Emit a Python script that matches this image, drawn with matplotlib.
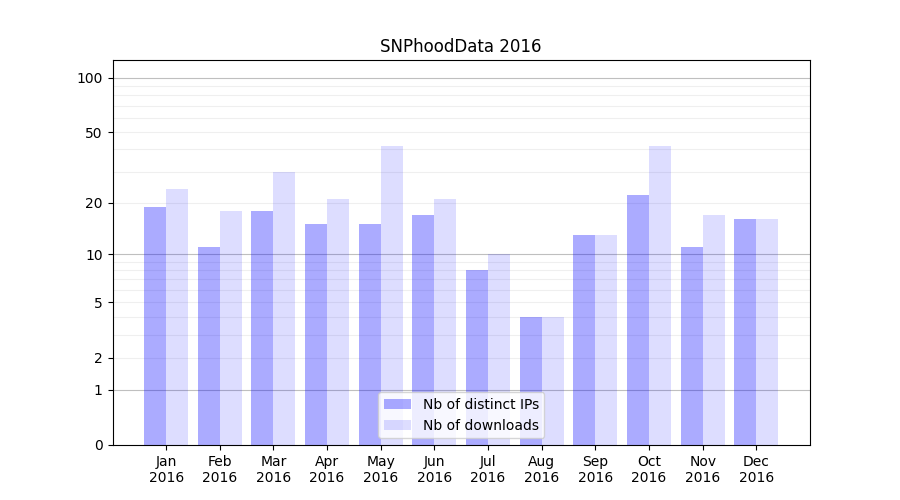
import matplotlib
matplotlib.use("Agg")
import matplotlib.pyplot as plt
import numpy as np

months = ["Jan", "Feb", "Mar", "Apr", "May", "Jun", "Jul", "Aug", "Sep", "Oct", "Nov", "Dec"]
year = "2016"
distinct_ips = [19, 11, 18, 15, 15, 17, 8, 4, 13, 22, 11, 16]
downloads = [24, 18, 30, 21, 42, 21, 10, 4, 13, 42, 17, 16]
ytick_vals = [0, 1, 2, 5, 10, 20, 50, 100]

fig, ax = plt.subplots(figsize=(9, 5), dpi=100)

def fwd(y):
    return np.log10(1 + np.clip(y, 0, None))

def inv(y):
    return 10 ** y - 1

ax.set_yscale("function", functions=(fwd, inv))

x = np.arange(len(months))
w = 0.41
ax.bar(x - w / 2, distinct_ips, width=w, color="blue", alpha=0.33, label="Nb of distinct IPs", zorder=2)
ax.bar(x + w / 2, downloads, width=w, color="blue", alpha=0.135, label="Nb of downloads", zorder=2)

ax.set_ylim(0, 125)
ax.set_xlim(-1, 12)
ax.set_yticks(ytick_vals)
ax.set_yticklabels([str(v) for v in ytick_vals])
minor = [v for v in list(range(2, 10)) + list(range(20, 100, 10))]
ax.set_yticks(minor, minor=True)
ax.tick_params(axis="y", which="minor", length=0)
for v in [1, 10, 100]:
    ax.axhline(v, color="gray", alpha=0.5, lw=0.8, zorder=1)
for v in minor:
    ax.axhline(v, color="gray", alpha=0.12, lw=0.8, zorder=1)

ax.set_xticks(x)
ax.set_xticklabels([f"{m}\n{year}" for m in months])
ax.set_title("SNPhoodData 2016")
ax.legend(loc="lower center")

fig.savefig("out.png")
